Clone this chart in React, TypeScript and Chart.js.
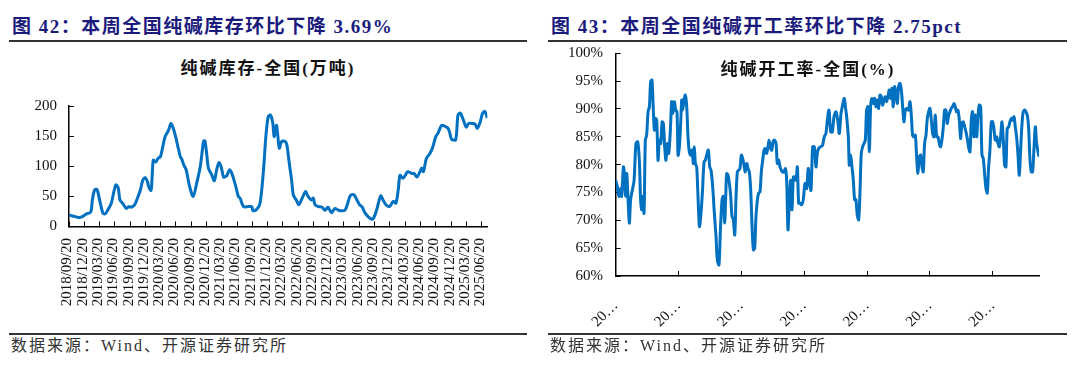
import React, { useEffect, useRef } from 'react';
import { Chart, registerables } from 'chart.js';

Chart.register(...registerables);

// ---------- Data: 纯碱库存-全国(万吨), week index from 2018/09/20 ----------
const invWeeks = [
  0, 4, 8, 11, 15, 18, 19, 20, 22, 24, 26, 29, 31, 33, 36, 38, 40, 42, 43.5, 46,
  49, 51, 53, 56, 59, 61, 63, 65, 67, 68, 70, 71, 72, 74, 76, 78, 80, 82, 85, 87,
  89, 91, 93, 95, 96, 98, 100, 103, 106, 109, 112, 114, 115, 116, 117.5, 119, 122, 124, 126, 128,
  130, 132, 134.5, 137, 139, 142, 144.5, 146, 149, 153, 156, 157, 160, 163, 166, 168, 170, 172, 174, 175,
  177, 178, 179.5, 181.5, 184.5, 186, 188, 190, 191.5, 194, 196, 199, 202, 204, 207, 208.5, 210, 213, 216, 218.5,
  221, 224, 227, 230, 233, 235.5, 237.5, 240, 243, 245.5, 248, 250, 252.5, 255.5, 258.5, 260, 262.5, 266, 268, 270.5,
  273.5, 275.5, 277, 279, 281, 282.5, 285, 287, 289, 292.5, 294.5, 297, 299.5, 301, 302.5, 305, 308, 310.5, 313, 315,
  318, 321, 323.5, 325, 326.5, 330, 332, 334, 336.5, 339, 341, 344, 346.5, 348.5, 351, 353, 355, 357,
];
const invValues = [
  19, 17, 15, 16, 21, 23, 27, 45, 61, 61, 45, 22, 21, 27, 38, 55, 69, 64, 44, 38,
  30, 33, 32, 36, 50, 61, 77, 81, 74, 66, 60, 85, 110, 107, 113, 116, 132, 149, 160, 171,
  163, 149, 132, 116, 113, 102, 94, 66, 50, 72, 99, 130, 142, 142, 121, 97, 85, 76, 94, 106,
  98, 82, 84, 94, 88, 69, 50, 47, 33, 33, 33, 26, 28, 38, 94, 149, 182, 185, 171, 149,
  168, 155, 130, 141, 141, 135, 105, 77, 52, 44, 36, 47, 58, 50, 44, 47, 36, 33, 32, 27,
  32, 23, 30, 27, 26, 27, 36, 51, 53, 45, 36, 33, 23, 16, 12, 14, 27, 51, 44, 36,
  33, 38.5, 42, 38.5, 61, 85, 80, 85, 91, 88, 88, 82, 91, 97, 91, 113, 121, 132, 149, 155,
  168, 166, 163, 155, 145, 144, 185, 188, 177, 165, 171, 171, 170, 163, 174, 188, 191, 180,
];
const invTickLabels = [
  '2018/09/20', '2018/12/20', '2019/03/20', '2019/06/20', '2019/09/20', '2019/12/20', '2020/03/20',
  '2020/06/20', '2020/09/20', '2020/12/20', '2021/03/20', '2021/06/20', '2021/09/20', '2021/12/20',
  '2022/03/20', '2022/06/20', '2022/09/20', '2022/12/20', '2023/03/20', '2023/06/20', '2023/09/20',
  '2023/12/20', '2024/03/20', '2024/06/20', '2024/09/20', '2024/12/20', '2025/03/20', '2025/06/20',
];
const invYTicks = [0, 50, 100, 150, 200];

// ---------- Data: 纯碱开工率-全国(%), week index ----------
const rateWeeks = [
  0, 1.4, 2.8, 4.2, 5, 6.5, 7.3, 8.4, 9.3, 10.1, 11.5, 12.6, 14.3, 15.5, 17.1, 18.6, 20, 21, 21.9, 22.8,
  23.9, 25, 26.1, 27.3, 28.4, 29.5, 30.6, 31.5, 32.6, 33.5, 34.6, 35.7, 36.8, 38, 39.1, 40.2, 41.3, 42.4, 43.6, 44.7,
  46.1, 47.2, 48.3, 49.5, 50.6, 51.7, 52.6, 53.7, 54.8, 55.7, 56.5, 57.6, 58.7, 59.9, 61, 62.1, 63.3, 64.4, 65.5, 66.3,
  67.2, 68.3, 69.2, 70.6, 71.7, 73.1, 74.5, 75.6, 76.7, 78.1, 79.3, 80.4, 81.8, 83.2, 84.6, 85.7, 87.1, 88.3, 89.7, 90.8,
  91.9, 92.8, 93.6, 94.7, 95.9, 97, 98.1, 99.2, 100.4, 101.5, 102.6, 103.7, 104.8, 106, 107.1, 108.2, 109.3, 110.5, 111.6, 112.7,
  113.8, 115, 116.1, 117.2, 118.3, 119.5, 120.6, 121.7, 122.8, 124, 125.1, 126.2, 127.3, 128.5, 129.3, 130.4, 131.6, 132.7, 133.8, 135.2,
  136.3, 137.5, 138.6, 139.7, 140.8, 142, 143.1, 144.2, 145.3, 146.5, 147.6, 148.7, 149.8, 150.9, 152.1, 153.2, 154.3, 155.4, 156.8, 158.2,
  159.6, 161, 162.4, 163.3, 164.7, 166.1, 167.5, 168.9, 170, 171.1, 172.8, 174.5, 175.9, 177.3, 178.5, 179.9, 181.3, 182.7, 184.1, 185.8,
  187.2, 188.6, 190, 191.4, 192.8, 193.9, 194.8, 196.2, 197, 198.1, 199.3, 200.4, 201.5, 202.6, 203.7, 204.9, 206, 207.1, 208.2, 209.4,
  210.5, 211.6, 212.7, 213.9, 215, 216.1, 217.2, 218.4, 219.5, 220.6, 221.7, 222.9, 224, 225.1, 226.2, 227.4, 228.5, 229.6, 230.7, 231.9,
  233, 234.1, 235.2, 236.4, 237.5, 238.6, 239.7, 240.9, 242, 243.1, 244.2, 245.4, 246.8, 248.2, 249.3, 250.4, 251.5, 252.7, 253.8, 254.9,
  256, 257.2, 258.3, 259.4, 260.5, 261.7, 262.8, 263.9, 265, 266.2, 267.3, 268.4, 269.5, 270.7, 271.8, 272.9, 274, 275.1, 276.3, 277.4,
  278.5, 279.6, 280.8, 281.9, 283, 284.1, 285.3, 286.4, 287.5, 288.6, 289.8, 290.9, 292, 293.1, 294.3, 295.4, 296.5, 297.6, 298.8, 299.9,
  301, 302.1, 303.3, 304.4, 305.5, 306.6, 307.8, 308.9, 310, 311.1, 312.3, 313.4, 314.5, 315.6, 316.8, 317.9, 319, 320.1, 321.3, 322.4,
  323.5, 324.6, 325.8, 326.9, 328, 329.1, 330.2, 331.4, 332.5, 333.6, 334.7, 335.9, 337, 338.1, 339.2, 340.4, 341.5, 342.6, 343.7, 344.9,
  346, 347.1, 348.2, 349.4, 350.5, 351.6, 352.7, 353.9, 355, 357,
];
const rateValues = [
  77.2, 76, 74.3, 75.7, 74.3, 79.6, 78.4, 74.3, 78.4, 75.4, 69.5, 73.7, 75.7, 77.2, 83.8, 84.1, 80.5, 73.7, 71.9, 74.3,
  71.3, 84.4, 85.3, 89.5, 90.4, 94.9, 95.2, 91, 86.2, 88.3, 88, 80.8, 84.4, 83.8, 87.7, 87.4, 83.2, 80.8, 83.8, 82,
  86.2, 91.3, 89.2, 91.3, 89.8, 89.5, 81.7, 83.2, 87.4, 91.6, 89.8, 91.6, 92.5, 90.4, 85, 82.3, 81.7, 82.6, 80.2, 83.2,
  80.2, 79.6, 75.4, 68.9, 70.7, 74.9, 80.5, 80.8, 81.7, 82.6, 79.6, 79, 76, 71.3, 67.1, 62.9, 62, 68.3, 73.7, 74.3,
  69.5, 74.3, 78.4, 78.1, 76.6, 74.3, 70.7, 70.1, 67.4, 74.3, 78.7, 79, 79.3, 81.7, 81.1, 79.9, 78.7, 80.2, 79.3, 78.7,
  75.7, 68.9, 64.7, 65, 70.7, 73.7, 74.9, 75.1, 78.7, 80.8, 82.6, 82.9, 82, 83.2, 84.4, 83.2, 82.6, 84.1, 84.4, 83.8,
  80.2, 80.8, 79.6, 79, 78.7, 78.7, 79.3, 77.2, 68.3, 73.7, 77.2, 71.9, 77.8, 77.8, 77.2, 79.6, 73.1, 73.1, 72.8, 73.7,
  76.6, 75.7, 79.3, 77.2, 75.4, 83.2, 83.2, 79.6, 82, 82.9, 83.2, 83.5, 85, 85.6, 88, 89.8, 85.9, 85.9, 88.6, 89.5,
  88, 85.6, 89.2, 90.7, 91.9, 90.1, 88.6, 85, 79.9, 81.7, 79.6, 77.2, 73.7, 73.7, 71, 70.1, 74.9, 82, 83.2, 83.8,
  84.4, 89.8, 90.4, 82.3, 90.4, 91.9, 91, 91.9, 90.4, 91.6, 90.1, 92.5, 92.2, 90.7, 91.6, 92.2, 91.3, 92.2, 93.4, 91.9,
  93.7, 90.4, 94, 92.8, 91, 94, 94.6, 93.4, 90.4, 87.7, 89.8, 90.1, 89.8, 91.3, 88.9, 85.3, 85, 85.3, 81.4, 78.4,
  81.4, 81.7, 79.6, 78.7, 83.8, 85.3, 88.3, 89.5, 90.1, 88, 85.6, 85, 88.9, 85, 85, 83.8, 83.2, 84.4, 86.8, 89.8,
  89.8, 87.4, 88.9, 89.5, 90.1, 90.4, 91, 90.4, 89.5, 89.8, 88, 84.7, 87.4, 87.7, 86.8, 85.9, 84.7, 83.2, 82.3, 88,
  89.5, 85, 88.9, 85, 88.6, 90.7, 90.4, 81.7, 81.1, 78.4, 75.7, 74.9, 79.6, 82.6, 87.7, 87.7, 86.5, 84.4, 85, 83.8,
  83.2, 85, 87.7, 84.4, 79.9, 79.6, 86.5, 86.8, 87.7, 88.3, 88, 88.6, 86.8, 85, 82, 78.1, 82.6, 87.1, 89.5, 89.8,
  89.5, 88.9, 86.8, 80.8, 78.7, 78.7, 82.6, 86.8, 83.8, 81.4,
];
const rateTickWeeks = [0, 53, 106, 159, 212, 265, 318];
const rateTickLabels = ['20…', '20…', '20…', '20…', '20…', '20…', '20…'];
const rateYTicks = [60, 65, 70, 75, 80, 85, 90, 95, 100];

const LAST_WEEK = 357;
const START_MS = Date.UTC(2018, 8, 20);
const weekOf = (label: string) => {
  const [y, m, d] = label.split('/').map(Number);
  return (Date.UTC(y, m - 1, d) - START_MS) / (7 * 86400000);
};

const SERIF = "'Liberation Serif', 'Times New Roman', 'Noto Sans CJK SC', serif";
const LINE = '#0070C0';
const NAVY = '#1B1B7E';

function axisCommon(tickLen: number) {
  return {
    grid: { display: true, drawOnChartArea: false, drawTicks: true, tickLength: tickLen, color: '#000', lineWidth: 1 },
    border: { display: true, color: '#000', width: 1.5 },
  };
}

const noPad = (s: any) => {
  s.paddingTop = 0; s.paddingBottom = 0; s.paddingLeft = 0; s.paddingRight = 0;
};

function InventoryChart() {
  const ref = useRef<HTMLCanvasElement>(null);
  useEffect(() => {
    const chart = new Chart(ref.current!, {
      type: 'line',
      data: {
        datasets: [{
          data: invWeeks.map((w, i) => ({ x: w, y: invValues[i] })),
          borderColor: LINE, borderWidth: 3, pointRadius: 0, tension: 0.3, fill: false,
        }],
      },
      options: {
        animation: false, responsive: false, maintainAspectRatio: false,
        layout: { padding: { left: 0, right: 52.7, top: 16, bottom: 0 } },
        plugins: { legend: { display: false }, tooltip: { enabled: false }, title: { display: false } },
        scales: {
          x: {
            type: 'linear', min: 0, max: LAST_WEEK,
            ...axisCommon(-5),
            afterBuildTicks: (s: any) => { s.ticks = invTickLabels.map((l) => ({ value: weekOf(l) })); },
            afterFit: (s: any) => { s.height = 103.5; noPad(s); },
            ticks: {
              autoSkip: false, minRotation: 90, maxRotation: 90, padding: 16.5, labelOffset: -1.5,
              color: '#111', font: { family: SERIF, size: 15 },
              callback: (_v: any, i: number) => invTickLabels[i],
            },
          },
          y: {
            type: 'linear', min: 0, max: 200,
            ...axisCommon(-5),
            afterBuildTicks: (s: any) => { s.ticks = invYTicks.map((v) => ({ value: v })); },
            afterFit: (s: any) => { s.width = 69; noPad(s); },
            ticks: { padding: 17, color: '#111', font: { family: SERIF, size: 15 } },
          },
        },
      } as any,
    });
    return () => chart.destroy();
  }, []);
  return <canvas ref={ref} width={540} height={240} style={{ position: 'absolute', left: 0, top: 90, width: 540, height: 240 }} />;
}

function RateChart() {
  const ref = useRef<HTMLCanvasElement>(null);
  useEffect(() => {
    const chart = new Chart(ref.current!, {
      type: 'line',
      data: {
        datasets: [{
          data: rateWeeks.map((w, i) => ({ x: w, y: rateValues[i] })),
          borderColor: LINE, borderWidth: 3, pointRadius: 0, tension: 0.3, fill: false,
        }],
      },
      options: {
        animation: false, responsive: false, maintainAspectRatio: false,
        layout: { padding: { left: 0, right: 41, top: 13.3, bottom: 0 } },
        plugins: { legend: { display: false }, tooltip: { enabled: false }, title: { display: false } },
        scales: {
          x: {
            type: 'linear', min: 0, max: LAST_WEEK,
            ...axisCommon(-5),
            afterBuildTicks: (s: any) => { s.ticks = rateTickWeeks.map((v) => ({ value: v })); },
            afterFit: (s: any) => { s.height = 64; noPad(s); },
            ticks: {
              autoSkip: false, minRotation: 45, maxRotation: 45, padding: 26,
              color: '#111', font: { family: SERIF, size: 15 },
              callback: (_v: any, i: number) => rateTickLabels[i],
            },
          },
          y: {
            type: 'linear', min: 60, max: 100,
            ...axisCommon(-5),
            afterBuildTicks: (s: any) => { s.ticks = rateYTicks.map((v) => ({ value: v })); },
            afterFit: (s: any) => { s.width = 75.7; noPad(s); },
            ticks: { padding: 17.7, color: '#111', font: { family: SERIF, size: 15 }, callback: (v: any) => v + '%' },
          },
        },
      } as any,
    });
    return () => chart.destroy();
  }, []);
  return <canvas ref={ref} width={540} height={300} style={{ position: 'absolute', left: 540, top: 40, width: 540, height: 300 }} />;
}

const headerStyle: React.CSSProperties = {
  position: 'absolute', top: 15, fontFamily: SERIF, fontWeight: 700, fontSize: 19,
  lineHeight: '24px', letterSpacing: 1.5, color: NAVY, whiteSpace: 'nowrap',
};
const ruleStyle: React.CSSProperties = { position: 'absolute', height: 1.5, background: '#333' };
const titleStyle: React.CSSProperties = {
  position: 'absolute', width: 300, textAlign: 'center', fontFamily: SERIF, fontWeight: 700,
  fontSize: 17, lineHeight: '20px', letterSpacing: 2, color: '#111', whiteSpace: 'nowrap',
};
const footStyle: React.CSSProperties = {
  position: 'absolute', top: 336, fontFamily: SERIF, fontSize: 16, lineHeight: '20px',
  letterSpacing: 2, color: '#333', whiteSpace: 'nowrap',
};

export default function App() {
  return (
    <div style={{ position: 'fixed', left: 0, top: 0, width: 1080, height: 365, background: '#fff', overflow: 'hidden' }}>
      <div style={{ ...headerStyle, left: 12 }}>图 42：本周全国纯碱库存环比下降 3.69%</div>
      <div style={{ ...headerStyle, left: 551 }}>图 43：本周全国纯碱开工率环比下降 2.75pct</div>
      <div style={{ ...ruleStyle, left: 9, width: 518, top: 40 }} />
      <div style={{ ...ruleStyle, left: 548, width: 519, top: 40 }} />
      <InventoryChart />
      <RateChart />
      <div style={{ ...titleStyle, left: 268 - 150, top: 59 }}>纯碱库存-全国(万吨)</div>
      <div style={{ ...titleStyle, left: 808 - 150, top: 60 }}>纯碱开工率-全国(%)</div>
      <div style={{ ...ruleStyle, left: 9, width: 518, top: 333 }} />
      <div style={{ ...ruleStyle, left: 548, width: 519, top: 333 }} />
      <div style={{ ...footStyle, left: 11 }}>数据来源：Wind、开源证券研究所</div>
      <div style={{ ...footStyle, left: 550 }}>数据来源：Wind、开源证券研究所</div>
    </div>
  );
}
